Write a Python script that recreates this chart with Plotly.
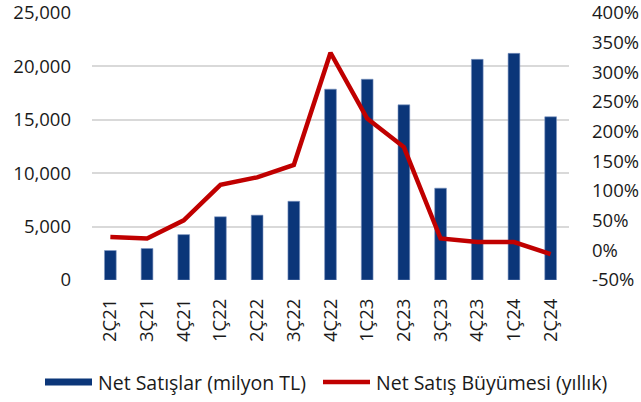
import plotly.graph_objects as go

categories = ["2Ç21", "3Ç21", "4Ç21", "1Ç22", "2Ç22", "3Ç22", "4Ç22",
              "1Ç23", "2Ç23", "3Ç23", "4Ç23", "1Ç24", "2Ç24"]
net_sales = [2760, 2950, 4250, 5920, 6070, 7370, 17870,
             18800, 16400, 8600, 20660, 21220, 15280]
growth_pct = [22.6, 20, 50.6, 110.5, 123, 144, 333,
              222, 174, 20, 14, 14, -6.4]

left_ticks = [0, 5000, 10000, 15000, 20000, 25000]
left_ticktext = ["0", "5,000", "10,000", "15,000", "20,000", "25,000"]
right_ticks = [-50, 0, 50, 100, 150, 200, 250, 300, 350, 400]
right_ticktext = [f"{v}%" for v in right_ticks]

bar_name = "Net Satışlar (milyon TL)"
line_name = "Net Satış Büyümesi (yıllık)"

BLUE = "#0B3679"
RED = "#C00000"
FONT = "Open Sans"
FS = 18.5
LFS = 19.5

T, B, L, R = 13, 122, 92, 72
PH = 402 - T - B
PW = 641 - L - R

fig = go.Figure()
fig.add_trace(go.Bar(
    x=categories, y=net_sales, name=bar_name,
    marker=dict(color=BLUE, line=dict(color="#7F97C2", width=0.6)),
    width=0.32, showlegend=False, yaxis="y"))
fig.add_trace(go.Scatter(
    x=categories, y=growth_pct, name=line_name, mode="lines",
    line=dict(color=RED, width=4.5), showlegend=False, yaxis="y2"))

fig.update_layout(
    width=641, height=402,
    margin=dict(l=L, r=R, t=T, b=B),
    paper_bgcolor="white", plot_bgcolor="white",
    font=dict(family=FONT, size=FS, color="#1a1a1a"),
    xaxis=dict(type="category", tickangle=-90, showgrid=False,
               showline=False, ticks="", ticklabelstandoff=14,
               automargin=False, tickfont=dict(size=FS)),
    yaxis=dict(range=[0, 25000], tickvals=left_ticks, ticktext=left_ticktext,
               showgrid=True, gridcolor="#D9D9D9", gridwidth=1.5,
               zeroline=False, showline=False, ticks="",
               automargin=False, ticklabelstandoff=20,
               ticklabeloverflow="allow"),
    yaxis2=dict(range=[-50, 400], tickvals=right_ticks, ticktext=right_ticktext,
                overlaying="y", side="right", showgrid=False,
                zeroline=False, showline=False, ticks="",
                automargin=False, ticklabelstandoff=22,
                ticklabeloverflow="allow"),
)

# custom legend
ly = 382
yp = (402 - B - ly) / PH
fig.add_shape(type="line", xref="paper", yref="paper",
              x0=(45 - L) / PW, x1=(92 - L) / PW, y0=yp, y1=yp,
              line=dict(color=BLUE, width=7))
fig.add_shape(type="line", xref="paper", yref="paper",
              x0=(323 - L) / PW, x1=(370 - L) / PW, y0=yp, y1=yp,
              line=dict(color=RED, width=4.5))
fig.add_annotation(text=bar_name, xref="paper", yref="paper",
                   x=(96 - L) / PW, y=yp,
                   xanchor="left", yanchor="middle", showarrow=False,
                   font=dict(size=LFS))
fig.add_annotation(text=line_name, xref="paper", yref="paper",
                   x=(374 - L) / PW, y=yp,
                   xanchor="left", yanchor="middle", showarrow=False,
                   font=dict(size=LFS))

fig.write_html("out.html",
               config={"displayModeBar": False},
               post_script="document.body.style.margin='0';document.body.style.overflow='hidden';")
